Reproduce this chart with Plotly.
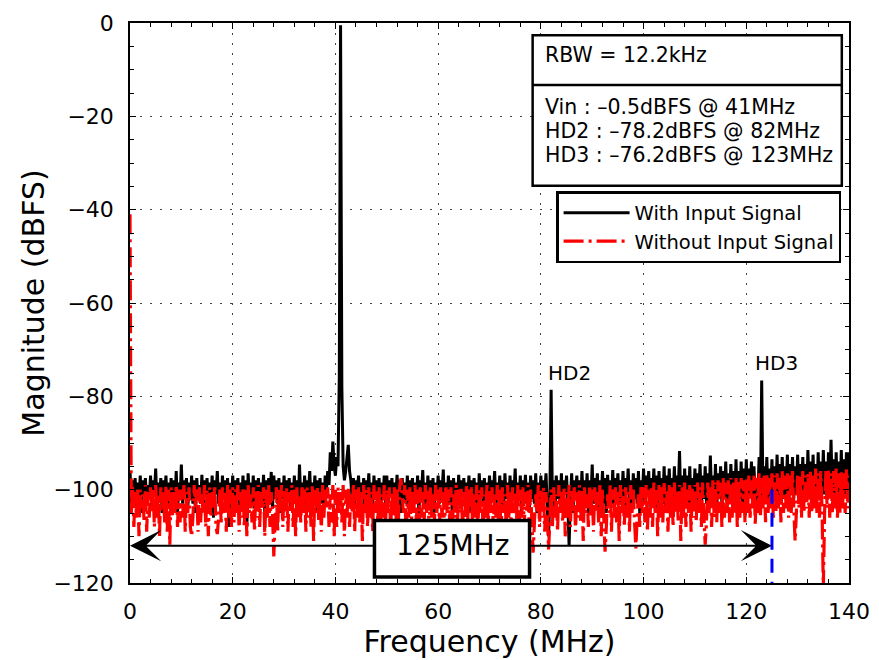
import numpy as np
import plotly.graph_objects as go

# ---------------- data ----------------
BIN_MHZ = 0.25  # spacing of the spectrum samples below, 0 ... 140 MHz

# "With Input Signal" spectrum, dBFS, one value every 0.25 MHz (40 values per 10 MHz row)
with_signal_db = [
    # 0-10 MHz
    -96, -103, -98, -101, -97.5, -104, -98.5, -102, -97, -105, -98, -101, -97.5, -103, -99, -102, -97, -104, -98, -101,
    -95.5, -103, -98.5, -102, -97.5, -105, -98, -101, -97, -103, -98.5, -104, -97.5, -102, -98, -103, -96, -105, -98.5, -102,
    # 10-20 MHz
    -94.6, -103, -98, -101, -97.5, -104, -98.5, -102, -97, -103, -98, -105, -97.5, -102, -99, -103, -96.8, -104, -98, -101,
    -97.5, -103, -98.5, -102, -97, -106, -98, -101, -96, -103, -98.5, -104, -97, -102, -98, -103, -97.5, -108, -98.5, -102,
    # 20-30 MHz
    -97, -103, -98, -101, -97.5, -104, -98.5, -102, -97, -103, -98, -108, -96.5, -102, -98.5, -103, -97, -104, -98, -101,
    -97.5, -103, -98.5, -102, -96.8, -105, -98, -101, -97.5, -103, -96.2, -104, -97, -102, -98, -103, -97.5, -105, -98.5, -102,
    # 30-40 MHz
    -97, -103, -98, -101, -97.5, -104, -98.5, -102, -97, -103, -98, -105, -94.6, -102, -98.5, -103, -97, -104, -98, -101,
    -96, -103, -98.5, -102, -97, -105, -98, -101, -97.5, -103, -98.5, -104, -97, -100, -96, -99, -92, -96, -89.7, -95,
    # 40-50 MHz (fundamental at 41 MHz)
    -97, -93, -95, -76, -0.5, -78, -95, -98, -96, -93, -90.4, -96, -98, -102, -97.5, -104, -98, -101, -97, -103,
    -98.5, -102, -97.5, -105, -98, -101, -96.5, -103, -98.5, -104, -97, -102, -98, -103, -97.5, -105, -98.5, -102, -97, -103,
    # 50-60 MHz
    -97, -103, -98, -101, -97.5, -104, -98.5, -102, -96.8, -103, -98, -105, -97.5, -102, -98.5, -103, -97, -104, -98, -101,
    -97.5, -103, -98.5, -102, -97, -105, -98, -101, -95.8, -103, -98.5, -104, -97, -102, -98, -103, -97.5, -105, -98.5, -102,
    # 60-70 MHz
    -97, -103, -98, -101, -95.7, -104, -98.5, -102, -97, -103, -98, -105, -97.5, -102, -98.5, -103, -96.8, -104, -98, -101,
    -97.5, -103, -98.5, -102, -97, -105, -98, -101, -97.5, -103, -98.5, -104, -96.5, -102, -98, -103, -97.5, -105, -98.5, -102,
    # 70-80 MHz
    -97, -103, -98, -101, -96, -104, -98.5, -102, -97, -103, -98, -105, -96.5, -102, -98.5, -103, -97, -104, -98, -101,
    -95.5, -103, -98.5, -102, -97, -105, -98, -101, -96.8, -103, -98.5, -104, -97, -102, -98, -103, -96.5, -105, -98.5, -102,
    # 80-90 MHz (HD2 at 82 MHz)
    -97, -103, -98, -101, -96.5, -104, -110, -102, -78.6, -103, -98, -105, -97, -102, -98, -103, -96.5, -104, -98, -101,
    -97, -103, -112, -102, -96.5, -105, -98, -101, -97, -103, -98, -104, -96, -102, -98, -103, -96.5, -105, -98, -102,
    # 90-100 MHz
    -94.6, -103, -97.5, -101, -96.5, -104, -98, -102, -96, -103, -97.5, -105, -96.8, -102, -98, -103, -95.8, -104, -97.5, -101,
    -96.5, -103, -98, -102, -96, -105, -97.5, -101, -95.5, -103, -98, -104, -96.5, -102, -97.5, -103, -96, -105, -98, -102,
    # 100-110 MHz
    -95.5, -103, -97, -101, -96, -104, -97.5, -102, -95.5, -103, -97, -105, -96, -102, -97.5, -103, -95, -104, -97, -101,
    -95.5, -103, -97.5, -102, -95, -104, -97, -101, -91.7, -103, -97, -104, -95.5, -102, -97, -103, -95, -104, -97.5, -102,
    # 110-120 MHz
    -95.5, -103, -96.5, -101, -94.5, -104, -97, -102, -95, -103, -96.5, -104, -92.7, -102, -97, -103, -94.5, -104, -96.5, -101,
    -95, -103, -96, -102, -94, -103, -96.5, -101, -94.5, -102, -96, -103, -93.5, -104, -96, -102, -94, -103, -95.5, -102,
    # 120-130 MHz (HD3 at 123 MHz)
    -93.5, -102, -95.5, -101, -94, -103, -95, -102, -105, -101, -93, -102, -76.6, -102, -95, -101, -93, -103, -95.5, -101,
    -93.5, -102, -95, -101, -92.5, -103, -94.5, -101, -93, -102, -95, -101, -92.5, -103, -94.5, -101, -93, -102, -95, -101,
    # 130-140 MHz
    -92.5, -102, -94.5, -101, -93, -101, -94.5, -102, -91.5, -101, -94, -102, -92.5, -101, -94.5, -101, -92, -102, -94, -101,
    -91.5, -101, -94, -102, -92, -101, -89.3, -101, -93.5, -102, -92, -101, -94, -101, -91.5, -102, -93.5, -101, -92, -102,
    # 140 MHz
    -92,
]

# "Without Input Signal" spectrum, dBFS, one value every 0.25 MHz (40 values per 10 MHz row)
without_signal_db = [
    # 0-10 MHz
    -41, -105, -99, -108, -100.5, -106, -99.5, -110, -100, -104, -101, -107, -99, -109, -100.5, -106, -99.5, -105, -100, -108,
    -99, -106, -101, -110, -99.5, -104, -100.5, -107, -99, -109, -100, -111.8, -99.5, -106, -100.5, -105, -99, -108, -100, -107,
    # 10-20 MHz
    -100, -106, -99, -109, -100.5, -105, -99.5, -108, -110, -106, -99, -104, -100, -109, -99.5, -107, -101, -105, -99, -108,
    -100, -110, -99.5, -106, -100.5, -104, -99, -108, -109.5, -106, -100, -107, -99.5, -105, -100.5, -109, -99, -106, -100, -108,
    # 20-30 MHz
    -99.5, -107, -100, -105, -99, -109, -100.5, -106, -99.5, -108, -100, -110, -99, -105, -101, -107, -99.5, -109, -100, -106,
    -99, -108, -100.5, -104, -99.5, -110, -100, -106, -99, -108, -100.5, -105, -114.3, -107, -99.5, -109, -100, -105, -99, -108,
    # 30-40 MHz
    -100, -106, -99.5, -109, -100.5, -105, -99, -108, -100, -110, -99.5, -106, -101, -107, -99, -105, -100, -109, -99.5, -106,
    -100.5, -108, -99, -111, -100, -105, -99.5, -107, -100.5, -109, -99, -106, -100, -104, -99.5, -108, -101, -107, -99, -110,
    # 40-50 MHz
    -100, -108, -99.5, -105, -100.5, -107, -99, -110, -100, -106, -99.5, -108, -101, -105, -99, -109, -100, -106, -99.5, -107,
    -100.5, -111, -99, -105, -100, -108, -99.5, -106, -100.5, -109, -99, -105, -100, -107, -99.5, -110, -101, -106, -99, -108,
    # 50-60 MHz
    -100, -105, -99.5, -109, -100.5, -106, -99, -108, -100, -107, -99.5, -97.6, -101, -105, -99, -110, -100, -106, -99.5, -109,
    -100.5, -105, -99, -107, -100, -111, -99.5, -106, -100.5, -108, -99, -105, -100, -109, -99.5, -106, -101, -108, -99, -105,
    # 60-70 MHz
    -100, -108, -99.5, -106, -100.5, -109, -99, -105, -100, -107, -99.5, -110, -101, -106, -99, -108, -100, -105, -99.5, -109,
    -100.5, -106, -99, -107, -100, -105, -99.5, -111, -100.5, -106, -99, -108, -100, -105, -99.5, -109, -101, -106, -99, -107,
    # 70-80 MHz
    -100, -105, -99.5, -109, -100.5, -106, -99, -107, -100, -110, -99.5, -105, -101, -108, -99, -106, -100, -109, -99.5, -105,
    -100.5, -107, -99, -111, -100, -106, -99.5, -108, -100.5, -105, -99, -109, -100, -106, -113.5, -107, -101, -105, -99, -108,
    # 80-90 MHz
    -100, -106, -99.5, -109, -100.5, -105, -112.8, -107, -100, -108, -99.5, -106, -101, -109, -99, -105, -100, -107, -99.5, -110,
    -100.5, -106, -99, -108, -100, -105, -99.5, -109, -100.5, -106, -99, -107, -100, -111, -99.5, -105, -101, -108, -99, -106,
    # 90-100 MHz
    -100, -109, -99.5, -105, -100.5, -107, -99, -110, -100, -106, -113.3, -108, -101, -105, -99, -109, -100, -106, -99.5, -107,
    -100.5, -111, -99, -105, -100, -108, -99.5, -106, -100.5, -109, -99, -105, -100, -107, -112.6, -106, -101, -108, -99, -105,
    # 100-110 MHz
    -99.5, -107, -99, -109, -100, -106, -99.5, -108, -98.5, -105, -100, -110, -99, -106, -99.5, -107, -98.6, -105, -100, -109,
    -99, -106, -99.5, -108, -98.5, -105, -100, -107, -99, -111, -99.5, -106, -98.5, -108, -100, -105, -99, -109, -99.5, -106,
    # 110-120 MHz
    -99, -107, -98.5, -105, -99.5, -108, -98.5, -106, -111.8, -107, -98.5, -105, -99, -108, -98, -106, -98.5, -107, -98, -105,
    -98.5, -108, -97.5, -106, -98.5, -105, -98, -107, -97.5, -106, -98.5, -105, -97.5, -108, -98, -106, -97.5, -105, -98, -107,
    # 120-130 MHz
    -97.5, -105, -97, -106, -98, -104, -97, -107.6, -97.5, -105, -96.5, -106, -97.5, -104, -97, -107, -96.5, -105, -97.5, -104,
    -96.5, -106, -97, -105, -96.5, -104, -97.5, -107, -96, -105, -97, -104, -96.5, -106, -97, -105, -96, -104, -111, -105,
    # 130-140 MHz
    -96.5, -104, -97, -106, -96, -105, -97, -104, -96.5, -106, -96, -105, -97, -104, -95.5, -105, -96.5, -106, -96, -104,
    -121, -105, -96, -104, -95.5, -106, -96.5, -105, -96, -104, -95.5, -106, -96.5, -105, -96, -104, -96.5, -105, -95.5, -104,
    # 140 MHz
    -97,
]

assert len(with_signal_db) == 561, len(with_signal_db)
assert len(without_signal_db) == 561, len(without_signal_db)

# annotation content
info_lines = ["Vin : –0.5dBFS @ 41MHz", "HD2 : –78.2dBFS @ 82MHz", "HD3 : –76.2dBFS @ 123MHz"]
rbw_text = "RBW = 12.2kHz"
harmonic_labels = ["HD2", "HD3"]
harmonic_label_mhz = [85.6, 125.9]
harmonic_label_db = [-75.0, -72.8]

span_mhz = 125
span_marker_db = [-100, -120]
span_arrow_db = -112
span_label = "125MHz"

x_ticks = [0, 20, 40, 60, 80, 100, 120, 140]
y_ticks = [-120, -100, -80, -60, -40, -20, 0]

# ---------------- build figure ----------------
FONT = "DejaVu Sans"

f_with = np.arange(len(with_signal_db)) * BIN_MHZ
f_without = np.arange(len(without_signal_db)) * BIN_MHZ

fig = go.Figure()
fig.add_trace(go.Scatter(
    x=f_with, y=with_signal_db, mode="lines", name="With Input Signal",
    line=dict(color="#000000", width=3),
))
fig.add_trace(go.Scatter(
    x=f_without, y=without_signal_db, mode="lines", name="Without Input Signal",
    line=dict(color="#ff0000", width=3.2, dash="20px,5px,3px,5px"),
))
fig.add_trace(go.Scatter(
    x=[span_mhz, span_mhz], y=span_marker_db, mode="lines", showlegend=False,
    line=dict(color="#0000ff", width=3, dash="14px,9px"),
))

# info box
info_x0, info_x1 = 78.4, 138.6
info_y0, info_y1 = -2.6, -34.9
divider_db = -13.3
fig.add_shape(type="rect", xref="x", yref="y", x0=info_x0, x1=info_x1, y0=info_y0, y1=info_y1,
              line=dict(color="black", width=2.5), fillcolor="white", layer="above")
fig.add_shape(type="line", xref="x", yref="y", x0=info_x0, x1=info_x1, y0=divider_db, y1=divider_db,
              line=dict(color="black", width=2.5), layer="above")
text_x = 80.5
fig.add_annotation(x=text_x, y=-6.9, xref="x", yref="y", text=rbw_text, showarrow=False,
                   xanchor="left", yanchor="middle", font=dict(family=FONT, size=20.5, color="black"))
for line, ydb in zip(info_lines, [-17.9, -23.1, -28.3]):
    fig.add_annotation(x=text_x, y=ydb, xref="x", yref="y", text=line, showarrow=False,
                       xanchor="left", yanchor="middle", font=dict(family=FONT, size=20.5, color="black"))

# harmonic labels
for t, fx, fy in zip(harmonic_labels, harmonic_label_mhz, harmonic_label_db):
    fig.add_annotation(x=fx, y=fy, xref="x", yref="y", text=t, showarrow=False,
                       xanchor="center", yanchor="middle", font=dict(family=FONT, size=20, color="black"))

# span arrow and label box
box_x0, box_x1 = 47.6, 77.8
box_y0, box_y1 = -106.6, -118.7
fig.add_shape(type="rect", xref="x", yref="y", x0=box_x0, x1=box_x1, y0=box_y0, y1=box_y1,
              line=dict(color="black", width=3.5), fillcolor="white", layer="above")
fig.add_annotation(x=(box_x0 + box_x1) / 2, y=span_arrow_db, xref="x", yref="y", text=span_label,
                   showarrow=False, xanchor="center", yanchor="middle",
                   font=dict(family=FONT, size=28, color="black"))
for tip, tail in [(0, box_x0), (span_mhz, box_x1)]:
    fig.add_annotation(x=tip, y=span_arrow_db, ax=tail, ay=span_arrow_db, xref="x", yref="y",
                       axref="x", ayref="y", text="", showarrow=True, arrowhead=3,
                       arrowsize=2.6, arrowwidth=2, arrowcolor="black", standoff=0, startstandoff=0)

axis_common = dict(
    showline=True, linecolor="black", linewidth=1.5, mirror="ticks",
    ticks="inside", ticklen=6, tickwidth=1.2, tickcolor="black",
    showgrid=True, gridcolor="#444444", gridwidth=1, griddash="2px,8px",
    zeroline=False, automargin=False, tickfont=dict(family=FONT, size=22, color="black"),
)
fig.update_xaxes(
    range=[0, 140], tickmode="array", tickvals=x_ticks,
    minor=dict(tick0=0, dtick=4, ticks="inside", ticklen=4, tickcolor="black", tickwidth=1, showgrid=False),
    title=dict(text="Frequency (MHz)", font=dict(family=FONT, size=30, color="black"), standoff=2),
    ticklabelstandoff=8, **axis_common,
)
fig.update_yaxes(
    range=[-120, 0], tickmode="array", tickvals=y_ticks,
    minor=dict(tick0=0, dtick=5, ticks="inside", ticklen=4, tickcolor="black", tickwidth=1, showgrid=False),
    title=dict(text="Magnitude (dBFS)", font=dict(family=FONT, size=30, color="black"), standoff=0),
    ticklabelstandoff=10, **axis_common,
)

fig.update_layout(
    width=879, height=660,
    margin=dict(l=130, r=30, t=23, b=77),
    paper_bgcolor="white", plot_bgcolor="white",
    font=dict(family=FONT, color="black"),
    legend=dict(x=0.989, y=0.70, xanchor="right", yanchor="top",
                bgcolor="white", bordercolor="black", borderwidth=2.5,
                font=dict(family=FONT, size=19.5, color="black"),
                itemwidth=66, tracegroupgap=0),
)

# remove the browser's default page margin so the figure sits at the window's top-left corner
fig.write_html("out.html", config={"displayModeBar": False},
               post_script="document.body.style.margin='0px';document.body.style.padding='0px';")
